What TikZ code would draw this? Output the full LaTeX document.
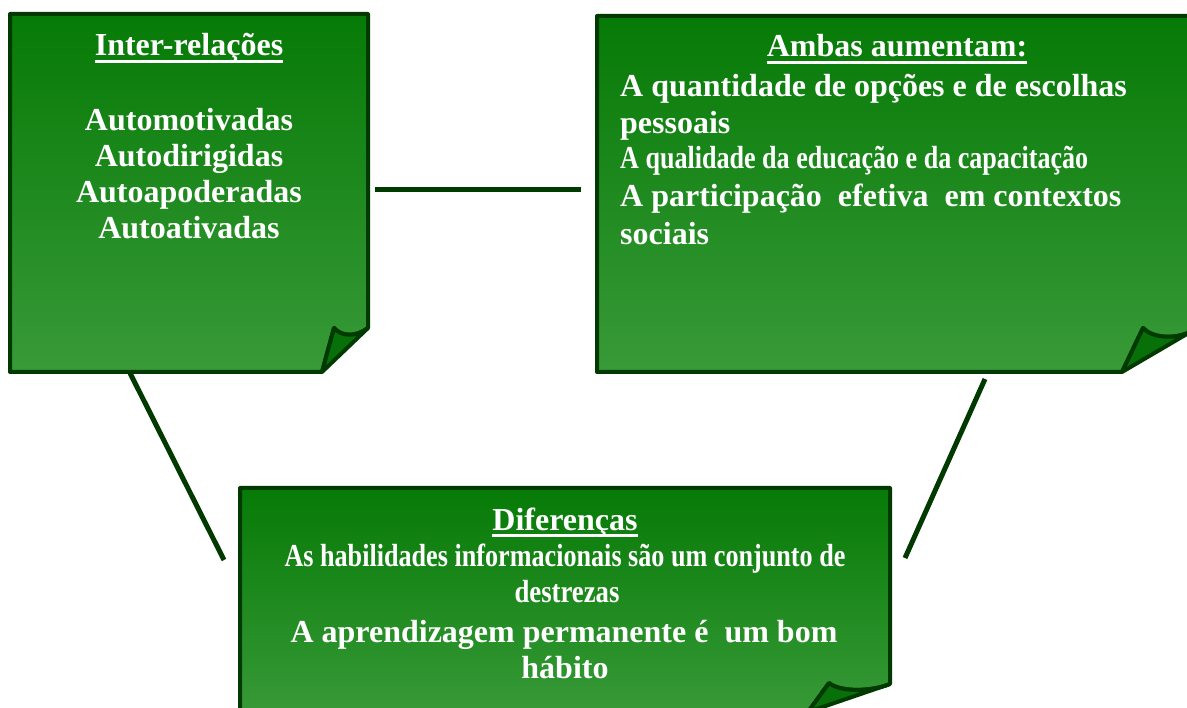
\documentclass[tikz,border=0pt]{standalone}
\usepackage{fontspec}
\setmainfont{Liberation Serif}
\usepackage{graphicx}
\definecolor{gtop}{RGB}{6,122,6}
\definecolor{gbot}{RGB}{56,154,56}
\definecolor{edgec}{RGB}{0,58,0}
\definecolor{flapc}{RGB}{8,112,8}
\begin{document}
\begin{tikzpicture}[x=1pt,y=-1pt,
  box/.style={top color=gtop,bottom color=gbot,draw=edgec,line width=4pt,line join=round},
  flapst/.style={fill=flapc,draw=edgec,line width=4pt,line join=round},
  txt/.style={text=white,font=\fontsize{32}{36}\selectfont\bfseries,inner sep=0pt,anchor=base},
  lft/.style={txt,anchor=base west},
  ulin/.style={white,line width=3pt},
  link/.style={draw=edgec,line width=5pt}]
\useasboundingbox (0,0) rectangle (1187,708);
\begin{scope}
\clip (0,0) rectangle (1187,708);
% connector end points
\coordinate (c1a) at (375,190);
\coordinate (c1b) at (581,190);
\coordinate (c2a) at (130,373);
\coordinate (c2b) at (224,560);
\coordinate (c3a) at (985,379);
\coordinate (c3b) at (905,558);
\draw[link] (c1a) -- (c1b);
\draw[link] (c2a) -- (c2b);
\draw[link] (c3a) -- (c3b);
% box 1
\shadedraw[box] (10,14) -- (368,14) -- (368,328) .. controls (356,337) and (342,337) .. (334,328) -- (322,372) -- (10,372) -- cycle;
\filldraw[flapst] (334,328) .. controls (342,337) and (356,337) .. (368,328) -- (322,372) -- cycle;
% box 2
\shadedraw[box] (597,16) -- (1192,16) -- (1192,331) .. controls (1175,340) and (1152,338) .. (1143,328) -- (1122,372) -- (597,372) -- cycle;
\filldraw[flapst] (1143,328) .. controls (1152,338) and (1175,340) .. (1192,331) -- (1122,372) -- cycle;
% box 3
\shadedraw[box] (240,488) -- (890,488) -- (890,684) .. controls (870,692) and (840,692) .. (829,683) -- (808,712) -- (240,716) -- cycle;
\filldraw[flapst] (829,683) .. controls (840,692) and (870,692) .. (890,684) -- (808,712) -- cycle;
\end{scope}
% texts box 1
\node[txt] (h1) at (189,56) {Inter-relações};
\draw[ulin] ([yshift=-6pt]h1.base west) -- ([yshift=-6pt]h1.base east);
\node[txt] (t11) at (189,131) {Automotivadas};
\node[txt] (t12) at (189,167) {Autodirigidas};
\node[txt] (t13) at (189,203) {Autoapoderadas};
\node[txt] (t14) at (189,239) {Autoativadas};
% texts box 2
\node[txt] (h2) at (897,57) {Ambas aumentam:};
\draw[ulin] ([yshift=-6pt]h2.base west) -- ([yshift=-6pt]h2.base east);
\node[lft] (t21) at (620,97) {A quantidade de opções e de escolhas};
\node[lft] (t22) at (620,134) {pessoais};
\node[lft] (t23) at (620,169) {\resizebox{468pt}{\height}{A qualidade da educação e da capacitação}};
\node[lft] (t24) at (620,207) {A participação\ \ efetiva\ \ em contextos};
\node[lft] (t25) at (620,245) {sociais};
% texts box 3
\node[txt] (h3) at (565,530) {Diferenças};
\draw[ulin] ([yshift=-6pt]h3.base west) -- ([yshift=-6pt]h3.base east);
\node[txt] (t31) at (565,566) {\resizebox{561pt}{\height}{As habilidades informacionais são um conjunto de}};
\node[txt] (t32) at (567,602) {\resizebox{105pt}{\height}{destrezas}};
\node[txt] (t33) at (564,642) {A aprendizagem permanente é\ \ um bom};
\node[txt] (t34) at (565,678) {hábito};
\end{tikzpicture}
\end{document}
